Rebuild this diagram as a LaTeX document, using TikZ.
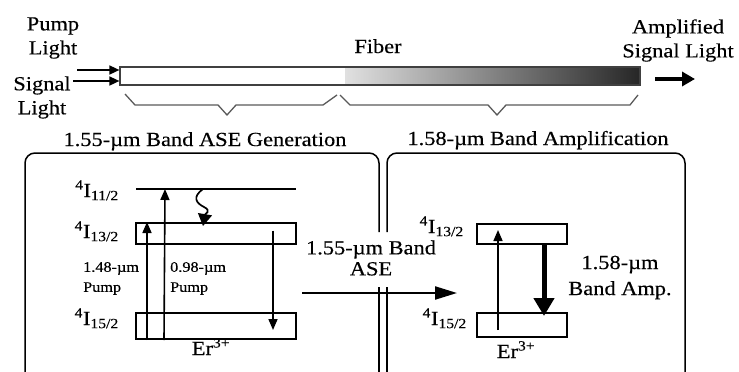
\documentclass[tikz,border=0pt]{standalone}
\usepackage{fontspec}
\setmainfont[FakeStretch=1.12,FakeBold=0.35]{Liberation Serif}
\usetikzlibrary{arrows.meta}
\begin{document}
\begin{tikzpicture}[x=1pt,y=-1pt,
  big/.style={font=\fontsize{20}{24}\selectfont, inner sep=0pt, align=center},
  small/.style={font=\fontsize{14.5}{20}\selectfont, inner sep=0pt, align=left},
  lvl/.style={draw, line width=2pt, inner sep=0pt},
  thinarrow/.style={line width=1.6pt, -{Triangle[length=11pt,width=9pt]}},
  brace/.style={draw=black!65, line width=1.3pt},
  boxline/.style={line width=1.5pt},
]
\useasboundingbox (0,0) rectangle (739,372);

% fiber
\fill[white] (120,67) rectangle (345,85);
\shade[left color=black!12, middle color=black!50, right color=black!85] (345,67) rectangle (640,85);
\node[draw=black!75, line width=1.2pt, minimum width=520pt, minimum height=18pt, inner sep=0pt] (fiber) at (380,76) {};

% top labels
\node[big] (pump) at (53,38) {Pump\\Light};
\node[big] (signal) at (42,97.5) {Signal\\Light};
\node[big, anchor=base] (fibtxt) at (378,53) {Fiber};
\node[big] (ampl) at (678,40.5) {Amplified\\Signal Light};

% input / output arrows
\coordinate (pumpstart) at (77,70);
\coordinate (sigstart) at (73,81);
\draw[line width=1.6pt, -{Triangle[length=10pt,width=9pt]}] (pumpstart) -- (pumpstart -| fiber.west);
\draw[line width=1.6pt, -{Triangle[length=10pt,width=9pt]}] (sigstart) -- (sigstart -| fiber.west);
\coordinate (outs) at (655,79);
\coordinate (oute) at (695,79);
\draw[line width=3.5pt, -{Triangle[length=13pt,width=14pt]}] (outs) -- (oute);

% braces
\draw[brace] (125,94) -- (135,105) -- (218,105) -- (227,115) -- (236,105) -- (323,105) -- (337,95);
\draw[brace] (340,95) -- (350,105) -- (488,105) -- (497,115) -- (506,105) -- (630,105) -- (638,95);

% boxes
\draw[boxline, rounded corners=10pt] (25,380) -- (25,153) -- (379,153) -- (379,232);
\draw[boxline] (379,287) -- (379,380);
\draw[boxline, rounded corners=10pt] (387,232) -- (387,153) -- (685,153) -- (685,380);
\draw[boxline] (387,287) -- (387,380);

% titles
\node[big, anchor=base] (titleL) at (205,146) {1.55-µm Band ASE Generation};
\node[big, anchor=base] (titleR) at (538,145) {1.58-µm Band Amplification};

% left energy diagram
\coordinate (l11w) at (136,189);
\coordinate (l11e) at (296,189);
\draw[line width=2pt] (l11w) -- (l11e);
\node[lvl, minimum width=160pt, minimum height=21pt] (b13) at (216,233.5) {};
\node[lvl, minimum width=160pt, minimum height=26pt] (b15) at (216,326) {};

\node[big, anchor=base east] (t11) at (119,197) {\textsuperscript{4}I\textsubscript{11/2}};
\node[big, anchor=base east] (t13) at (119,238) {\textsuperscript{4}I\textsubscript{13/2}};
\node[big, anchor=base east] (t15) at (119,325) {\textsuperscript{4}I\textsubscript{15/2}};

\draw[thinarrow] ([xshift=12pt]b15.south west) -- ([xshift=12pt]b13.north west);
\draw[thinarrow] ([xshift=29pt]b15.south west) -- ([xshift=29pt]l11w);

\coordinate (ws) at ([xshift=67pt]l11w);
\coordinate (wm) at (204,207);
\coordinate (wt) at ([xshift=68pt,yshift=-4pt]b13.north west);
\draw[line width=1.7pt, -{Triangle[length=12pt,width=14pt]}] (ws) .. controls (192,197) and (196,203) .. (wm) .. controls (212,211) and (205,214) .. (wt);

\draw[thinarrow] ([xshift=57pt,yshift=3pt]b13.center) -- ([xshift=57pt,yshift=-4pt]b15.center);

\node[small, anchor=west] (p148) at (83,278.5) {1.48-µm\\Pump};
\node[small, anchor=west] (p098) at (170,278.5) {0.98-µm\\Pump};
\node[big, anchor=base] (erL) at (211,355) {Er\textsuperscript{3+}};

% ASE transfer
\node[big, font=\fontsize{20}{21}\selectfont] (asetxt) at (371,258) {1.55-µm Band\\ASE};
\coordinate (ases) at (302,293);
\coordinate (asee) at (457,293);
\draw[line width=2.2pt, -{Triangle[length=22pt,width=13pt]}] (ases) -- (asee);

% right energy diagram
\node[lvl, minimum width=90pt, minimum height=20pt] (r13) at (522,234) {};
\node[lvl, minimum width=90pt, minimum height=24pt] (r15) at (522,325) {};
\node[big, anchor=base east] (rt13) at (464,233) {\textsuperscript{4}I\textsubscript{13/2}};
\node[big, anchor=base east] (rt15) at (467,325) {\textsuperscript{4}I\textsubscript{15/2}};

\draw[thinarrow] ([xshift=-24pt,yshift=-5pt]r15.center) -- ([xshift=-24pt,yshift=4pt]r13.center);
\draw[line width=5pt, -{Triangle[length=18pt,width=20pt]}] ([xshift=22pt]r13.south) -- ([xshift=22pt,yshift=-4pt]r15.north);

\node[big, font=\fontsize{20}{26}\selectfont] (amp) at (620,277.5) {1.58-µm\\Band Amp.};
\node[big, anchor=base] (erR) at (516,358) {Er\textsuperscript{3+}};
\end{tikzpicture}
\end{document}
